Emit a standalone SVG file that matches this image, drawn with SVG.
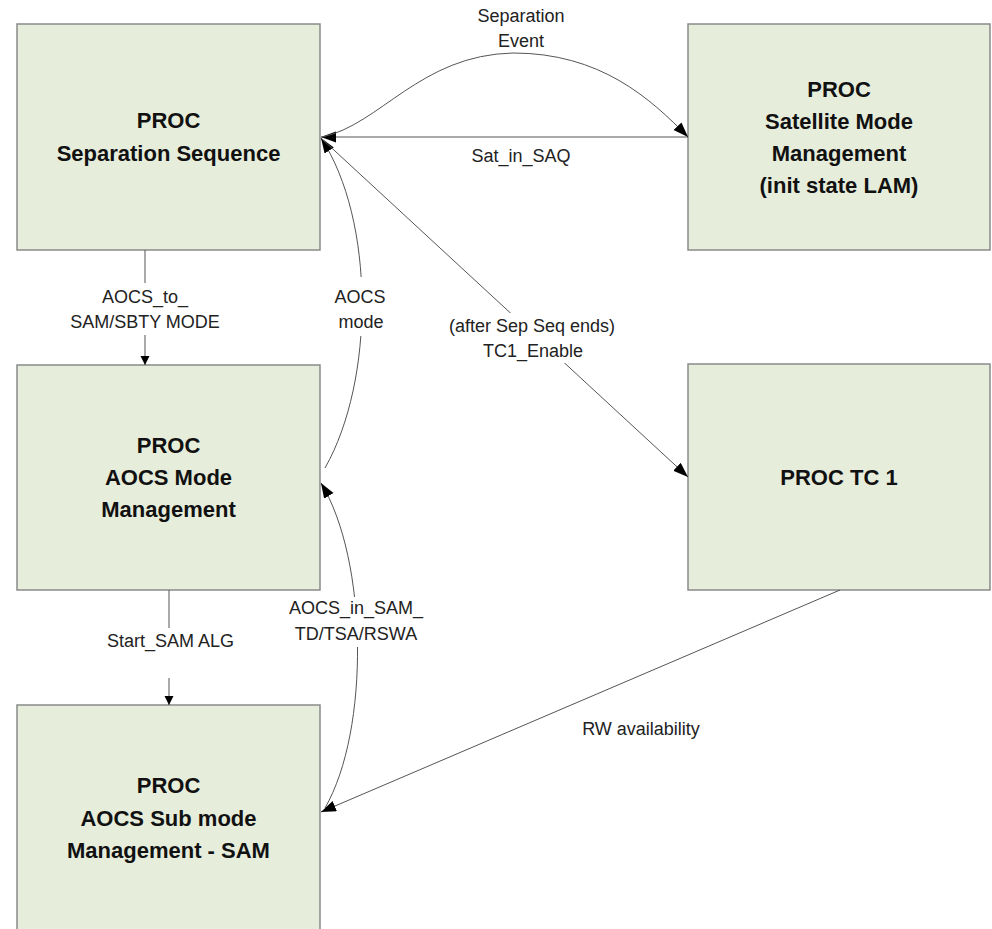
<svg xmlns="http://www.w3.org/2000/svg" width="992" height="929" viewBox="0 0 992 929">
<style>
.box{fill:#e7eddb;stroke:#8a8a8a;stroke-width:1.5}
.t{font-family:"Liberation Sans",Arial,sans-serif;font-size:22px;font-weight:bold;fill:#111;text-anchor:middle}
.l{font-family:"Liberation Sans",Arial,sans-serif;font-size:18px;fill:#222;text-anchor:middle}
.c{fill:none;stroke:#555;stroke-width:1}
.bg{fill:#fff}
</style>
<defs>
<marker id="big" markerUnits="userSpaceOnUse" markerWidth="16" markerHeight="12" refX="15" refY="5.5" orient="auto"><path d="M0,0 L15,5.5 L0,11 z" fill="#000"/></marker>
<marker id="small" markerUnits="userSpaceOnUse" markerWidth="10" markerHeight="10" refX="9" refY="4.5" orient="auto"><path d="M0,0 L9,4.5 L0,9 z" fill="#000"/></marker>
</defs>
<rect width="992" height="929" fill="#fff"/>
<g id="n-sepseq"><rect class="box" x="17" y="24" width="303" height="226"/><text class="t" x="168.5" y="128">PROC</text><text class="t" x="168.5" y="161">Separation Sequence</text></g>
<g id="n-satmode"><rect class="box" x="688" y="24" width="302" height="226"/><text class="t" x="839" y="97">PROC</text><text class="t" x="839" y="129">Satellite Mode</text><text class="t" x="839" y="161">Management</text><text class="t" x="839" y="193">(init state LAM)</text></g>
<g id="n-aocsmode"><rect class="box" x="17" y="365" width="303" height="225"/><text class="t" x="168.5" y="453">PROC</text><text class="t" x="168.5" y="485">AOCS Mode</text><text class="t" x="168.5" y="517">Management</text></g>
<g id="n-tc1"><rect class="box" x="688" y="364" width="302" height="226"/><text class="t" x="839" y="485">PROC TC 1</text></g>
<g id="n-submode"><rect class="box" x="17" y="705" width="303" height="232"/><text class="t" x="168.5" y="793">PROC</text><text class="t" x="168.5" y="826">AOCS Sub mode</text><text class="t" x="168.5" y="858">Management - SAM</text></g>
<g id="connectors">
<path class="c" d="M145 250 L145 365" marker-end="url(#small)"/>
<path class="c" d="M169 590 L169 705" marker-end="url(#small)"/>
<path class="c" d="M688 137 L321 137" marker-end="url(#big)"/>
<path class="c" d="M322 137 C380 125 420 55 513 53 C600 53 650 98 688 137" marker-end="url(#big)"/>
<path class="c" d="M325 468 C375 380 375 220 321 138" marker-end="url(#big)"/>
<path class="c" d="M322 139 L688 477" marker-end="url(#big)"/>
<path class="c" d="M325 808 C370 730 368 560 321 483" marker-end="url(#big)"/>
<path class="c" d="M840 590 L321 812" marker-end="url(#big)"/>
</g>
<g id="labels">
<rect class="bg" x="66" y="283" width="156" height="52"/>
<text class="l" x="145" y="303">AOCS_to_</text><text class="l" x="145" y="328">SAM/SBTY MODE</text>
<rect class="bg" x="334" y="277" width="54" height="59"/>
<text class="l" x="360" y="303">AOCS</text><text class="l" x="361" y="328">mode</text>
<rect class="bg" x="443" y="313" width="178" height="50"/>
<text class="l" x="532" y="332">(after Sep Seq ends)</text><text class="l" x="533" y="357">TC1_Enable</text>
<rect class="bg" x="102" y="628" width="138" height="50"/>
<text class="l" x="170.5" y="647">Start_SAM ALG</text>
<rect class="bg" x="287" y="597" width="139" height="50"/>
<text class="l" x="356" y="614">AOCS_in_SAM_</text><text class="l" x="356" y="640">TD/TSA/RSWA</text>
<text class="l" x="521" y="22">Separation</text><text class="l" x="521" y="47">Event</text>
<text class="l" x="521" y="162">Sat_in_SAQ</text>
<text class="l" x="641" y="735">RW availability</text>
</g>
</svg>
